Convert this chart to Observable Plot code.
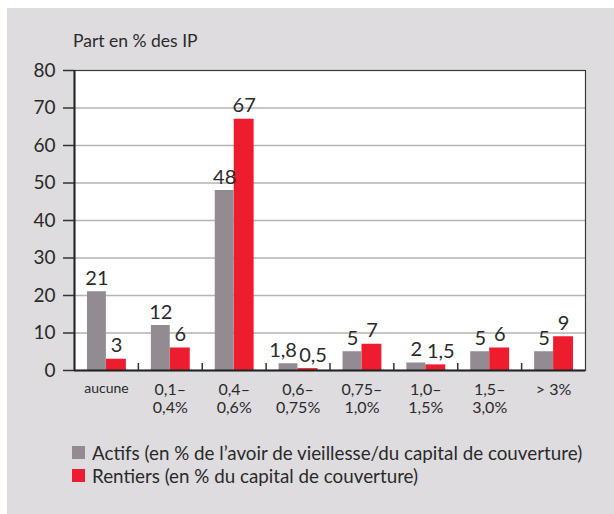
<!DOCTYPE html>
<html>
<head>
<meta charset="utf-8">
<script src="https://cdn.jsdelivr.net/npm/d3@7"></script>
<script src="https://cdn.jsdelivr.net/npm/@observablehq/plot@0.6"></script>
<style>
  html, body { margin: 0; padding: 0; background: #ffffff; }
  body { width: 614px; height: 514px; position: relative; overflow: hidden; font-family: Lato, "Noto Sans", sans-serif; color: #2a2a2a; }
  #panel { position: absolute; left: 7px; top: 8px; right: 0; bottom: 0; background: #dedcdf; }
  #title { position: absolute; left: 73px; top: 31px; font-size: 17.5px; line-height: 20px; white-space: nowrap; }
  #chart { position: absolute; left: 0; top: 50px; }
  #legend { position: absolute; left: 72px; top: 441px; font-size: 18.8px; }
  .row { display: flex; align-items: center; height: 23px; white-space: nowrap; }
  .sw { width: 13px; height: 13px; margin-right: 7px; flex: none; }
</style>
</head>
<body>
<div id="panel"></div>
<div id="title">Part en % des IP</div>
<div id="chart"></div>
<div id="legend"></div>
<script>
const categories = ["aucune", "0,1–0,4%", "0,4–0,6%", "0,6–0,75%", "0,75–1,0%", "1,0–1,5%", "1,5–3,0%", "> 3%"];
const tickLabels = ["aucune", "0,1–\n0,4%", "0,4–\n0,6%", "0,6–\n0,75%", "0,75–\n1,0%", "1,0–\n1,5%", "1,5–\n3,0%", "> 3%"];
const actifs = [21, 12, 48, 1.8, 5, 2, 5, 5];
const rentiers = [3, 6, 67, 0.5, 7, 1.5, 6, 9];
const yTicks = [0, 10, 20, 30, 40, 50, 60, 70, 80];
const seriesNames = ["Actifs (en % de l’avoir de vieillesse/du capital de couverture)", "Rentiers (en % du capital de couverture)"];
const seriesColors = ["#938b92", "#ed1c2e"];

const data = categories.map((c, i) => ({cat: c, label: tickLabels[i], actifs: actifs[i], rentiers: rentiers[i]}));
const fmt = v => String(v).replace(".", ",");
const hasComma = v => String(v).includes(".");

const W = 614, H = 380, ML = 74, MR = 29, MT = 20, MB = 60;
const step = (W - ML - MR) / categories.length;
const textColor = "#2a2a2a";

const chart = Plot.plot({
  width: W, height: H,
  marginLeft: ML, marginRight: MR, marginTop: MT, marginBottom: MB,
  style: {background: "transparent", fontFamily: "Lato, 'Noto Sans', sans-serif", color: textColor},
  x: {domain: categories, padding: 0, round: false, axis: null},
  y: {domain: [0, 80], axis: null},
  marks: [
    Plot.frame({fill: "white", stroke: null}),
    Plot.ruleY(yTicks.filter(t => t > 0 && t < 80), {stroke: "#b3b3b3", strokeWidth: 1.5}),
    Plot.barY(data, {x: "cat", y: "actifs", fill: seriesColors[0], insetLeft: 13, insetRight: 32}),
    Plot.barY(data, {x: "cat", y: "rentiers", fill: seriesColors[1], insetLeft: 32, insetRight: 12}),
    Plot.frame({stroke: "#3a3a3a", strokeWidth: 1.2}),
    Plot.ruleY([0], {stroke: "#222", strokeWidth: 2}),
    Plot.ruleX(categories.slice(0, 1), {x: d => d, dx: -step / 2, stroke: "#222", strokeWidth: 2}),
    Plot.ruleX(categories.slice(0, 7), {x: d => d, y1: () => 0, y2: () => 0, insetBottom: 7, dx: step / 2, stroke: "#333", strokeWidth: 1.5}),
    Plot.axisY({ticks: yTicks, tickSize: 11, tickPadding: 8, fontSize: 19, stroke: "#333", strokeWidth: 1.5, color: textColor}),
    Plot.text(data.filter(d => d.cat === "aucune"), {x: "cat", text: "label", frameAnchor: "bottom", lineAnchor: "top", dy: 13, fontSize: 14, fill: textColor}),
    Plot.text(data.filter(d => d.cat !== "aucune"), {x: "cat", text: "label", frameAnchor: "bottom", lineAnchor: "top", dy: 11, lineHeight: 1.15, fontSize: 16, fill: textColor}),
    Plot.text(data.filter(d => !hasComma(d.actifs)), {x: "cat", y: "actifs", text: d => fmt(d.actifs), dx: -9.5, dy: -7, lineAnchor: "bottom", fontSize: 20, fill: textColor}),
    Plot.text(data.filter(d => hasComma(d.actifs)), {x: "cat", y: "actifs", text: d => fmt(d.actifs), dx: -15, dy: -7, lineAnchor: "bottom", fontSize: 20, fill: textColor}),
    Plot.text(data.filter(d => !hasComma(d.rentiers)), {x: "cat", y: "rentiers", text: d => fmt(d.rentiers), dx: 10, dy: -7, lineAnchor: "bottom", fontSize: 20, fill: textColor}),
    Plot.text(data.filter(d => hasComma(d.rentiers)), {x: "cat", y: "rentiers", text: d => fmt(d.rentiers), dx: 15, dy: -7, lineAnchor: "bottom", fontSize: 20, fill: textColor})
  ]
});
document.getElementById("chart").appendChild(chart);

const legend = document.getElementById("legend");
seriesNames.forEach((name, i) => {
  const row = document.createElement("div");
  row.className = "row";
  const sw = document.createElement("span");
  sw.className = "sw";
  sw.style.background = seriesColors[i];
  const t = document.createElement("span");
  t.textContent = name;
  row.appendChild(sw);
  row.appendChild(t);
  legend.appendChild(row);
});
</script>
</body>
</html>
